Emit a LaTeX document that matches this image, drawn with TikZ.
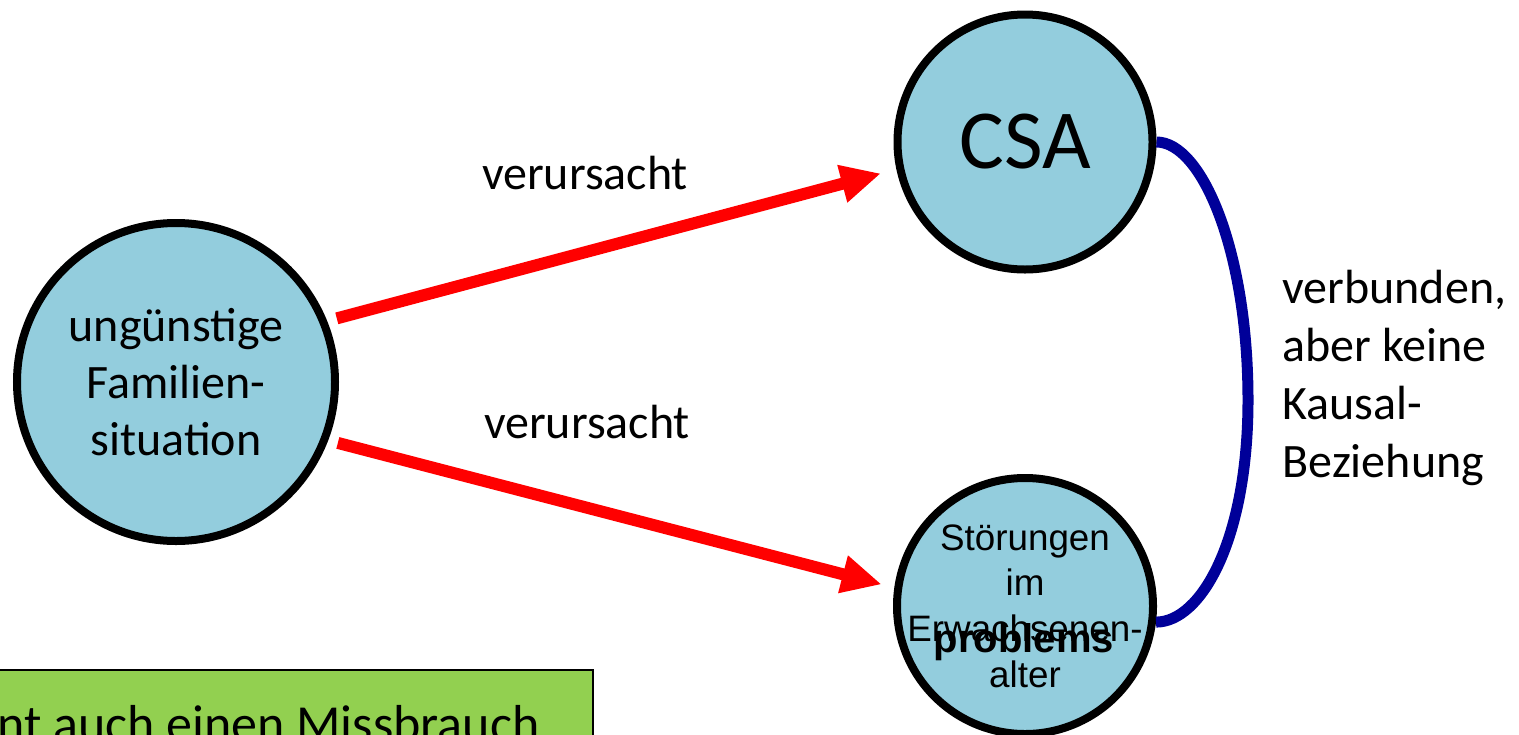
\documentclass[tikz,border=0pt]{standalone}
\usepackage{fontspec}
\setmainfont{Carlito}
\newfontfamily\arialfont{Liberation Sans}
\usetikzlibrary{arrows.meta}
\definecolor{bubblefill}{RGB}{147,205,221}
\definecolor{notegreen}{RGB}{146,208,80}
\definecolor{linkblue}{RGB}{0,0,153}

\begin{document}
\begin{tikzpicture}[x=0.5pt, y=-0.5pt,
    bubble/.style={circle, draw=black, line width=4pt, fill=bubblefill, inner sep=0pt},
    cause/.style={draw=red, line width=6pt, -{Triangle[length=20pt, width=18pt]}},
    captext/.style={font=\fontsize{24}{28.5}\selectfont, align=center}]
    \useasboundingbox (0,0) rectangle (1519,734);
    \clip (0,0) rectangle (1519,734);

    \node[bubble, minimum size=159pt, captext] (family) at (176,382) {ungünstige\\Familien-\\situation};
    \node[bubble, minimum size=127.5pt, font=\fontsize{42}{50}\selectfont] (csa) at (1025,142) {CSA};
    \node[bubble, minimum size=128pt] (adult) at (1025,606) {};
    \node[align=center, inner sep=0pt, font=\arialfont\fontsize{18.4}{22.8}\selectfont] (adulttext) at (adult.center) {Störungen\\im\\Erwachsenen-\\alter};
    \node[anchor=base, inner sep=0pt, font=\arialfont\bfseries\fontsize{20}{24}\selectfont] (problems) at (1024,652) {problems};

    \draw[cause, shorten <=5pt, shorten >=8pt] (family.22) -- (csa.192);
    \draw[cause, shorten <=5pt, shorten >=6.5pt] (family.-21.4) -- (adult.172.9);
    \node[captext] (uppercause) at (585,173) {verursacht};
    \node[captext] (lowercause) at (587,422) {verursacht};

    \coordinate (bend) at (1248,400);
    \draw[linkblue, line width=5.5pt] (csa.east) .. controls +(45,0) and +(0,-150) .. (bend)
        .. controls +(0,140) and +(45,0) .. (adult.-7);
    \node[captext, anchor=north west, inner sep=0pt, align=left, font=\fontsize{24}{29}\selectfont] (remark) at (1282,270) {verbunden,\\aber keine\\Kausal-\\Beziehung};

    \draw[fill=notegreen, line width=1pt] (-10,670) rectangle (593,760);
    \node[anchor=base east, inner sep=0pt, font=\fontsize{26}{31}\selectfont] (note) at (540,741) {nt auch einen Missbrauch};
\end{tikzpicture}
\end{document}
